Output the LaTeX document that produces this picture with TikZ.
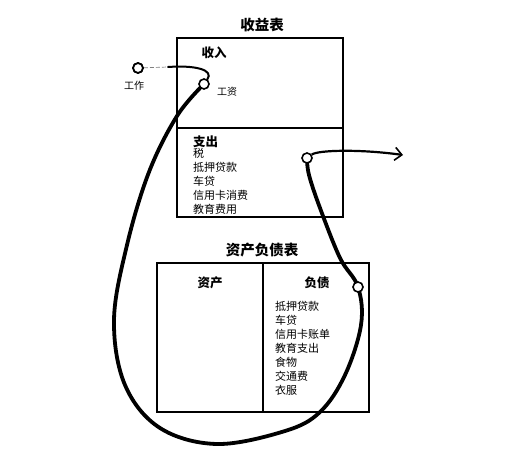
\documentclass[tikz,border=0pt]{standalone}
\usepackage{fontspec}
\newfontfamily\cjk{Noto Sans CJK SC}
\usetikzlibrary{arrows.meta,backgrounds}
\begin{document}
\begin{tikzpicture}[x=1pt,y=-1pt,
  frame/.style={draw, line width=2.4pt},
  title/.style={font=\cjk\bfseries\fontsize{14.5}{16}\selectfont, inner sep=0pt},
  head/.style={font=\cjk\bfseries\fontsize{12.5}{14}\selectfont, inner sep=0pt},
  item/.style={font=\cjk\fontsize{11}{14}\selectfont, inner sep=0pt, anchor=north west, align=left},
  small/.style={font=\cjk\fontsize{10}{12}\selectfont, inner sep=0pt},
  dot/.style={circle, draw=black, fill=white, line width=1.6pt, minimum size=10pt, inner sep=0pt},
  flow/.style={line width=3.8pt, line cap=round, line join=round}]
\useasboundingbox (0,0) rectangle (521,460);
% income statement
\draw[frame] (177,38) rectangle (343,217);
\draw[frame] (177,128) -- (343,128);
\node[title] (t1) at (262,25) {收益表};
\node[head] (inc) at (214,53) {收入};
\node[head, anchor=west] (exp) at (193,142) {支出};
\node[item] (expl) at (193,148) {税\\抵押贷款\\车贷\\信用卡消费\\教育费用};
% balance sheet
\draw[frame] (157,263) rectangle (369,412);
\draw[frame] (263,263) -- (263,412);
\node[title] (t2) at (262,250) {资产负债表};
\node[head] (ast) at (210,283) {资产};
\node[head] (lia) at (317,283) {负债};
\node[item] (lial) at (275,301) {抵押贷款\\车贷\\信用卡账单\\教育支出\\食物\\交通费\\衣服};
% circles
\node[dot] (work) at (138,68) {};
\draw[line width=1.6pt] (work.center) circle (5pt);
\node[small] (workl) at (134,86) {工作};
\node[dot] (s) at (204,84) {};
\node[small] (sl) at (227,92) {工资};
\node[dot] (c1) at (307,158) {};
\node[dot] (c2) at (358,287) {};
\coordinate (wm) at (168,67);
\coordinate (out) at (403,155);
\begin{scope}[on background layer]
\draw[line width=0.7pt, gray, dash pattern=on 4pt off 2pt] (work) -- (wm);
\draw[line width=2pt, line cap=round] (wm) .. controls (196,65) and (214,70) .. (s);
\draw[flow] plot[smooth, tension=0.6] coordinates {(s) (177,116) (149,172) (127,245) (114,320) (125,385) (160,428) (217,444) (285,431) (320,412) (345,375) (361,325) (c2) (340,258) (320,208) (309,175) (c1)};
\draw[line width=2.2pt, -{Straight Barb[length=7pt,width=13pt,line width=1.6pt]}] (c1) .. controls (318,150) and (360,149) .. (out);
\end{scope}
\end{tikzpicture}
\end{document}
